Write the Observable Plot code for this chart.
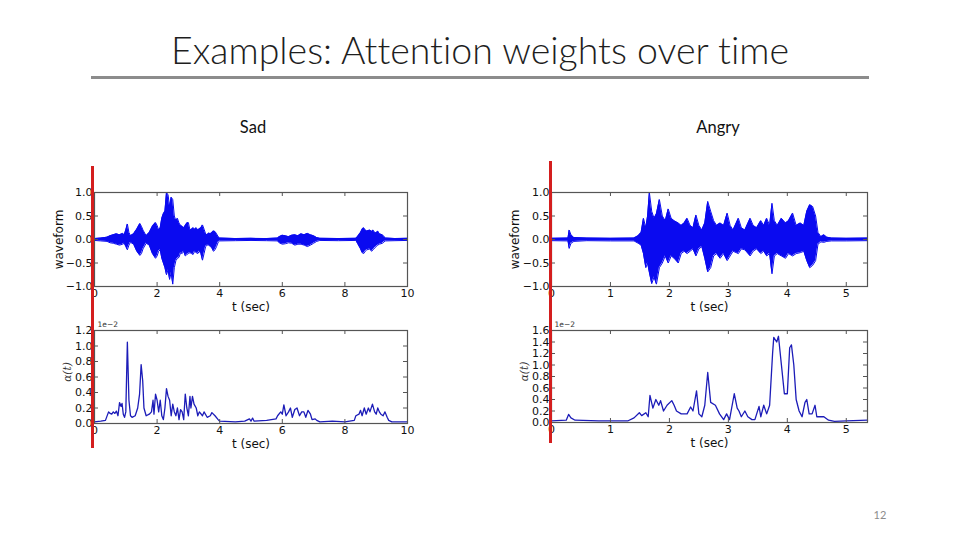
<!DOCTYPE html>
<html><head><meta charset="utf-8">
<script src="https://cdn.jsdelivr.net/npm/d3@7"></script>
<script src="https://cdn.jsdelivr.net/npm/@observablehq/plot@0.6"></script>
<style>
html,body{margin:0;padding:0;background:#fff;}
body{width:960px;height:540px;overflow:hidden;position:relative;font-family:Lato,"Open Sans",sans-serif;font-variant-ligatures:none;}
.abs{position:absolute;line-height:1;white-space:nowrap;}
#title{left:0;width:960px;top:31px;text-align:center;font-size:37.5px;font-weight:300;color:#1e1e1e;}
#rule{left:91px;top:76px;width:778px;height:3px;background:#8c8c8c;}
.col{font-size:16.5px;color:#111;text-align:center;width:200px;top:119px;}
#page{left:860px;width:40px;text-align:center;top:509px;font-size:11px;color:#8c8c8c;}
.plot{position:absolute;}
.red{position:absolute;background:#d41e1e;width:3px;z-index:5;}
</style></head><body>
<div id="title" class="abs">Examples: Attention weights over time</div>
<div id="rule" class="abs"></div>
<div class="abs col" style="left:153px">Sad</div>
<div class="abs col" style="left:618px">Angry</div>
<div id="page" class="abs">12</div>
<div id="p1" class="plot" style="left:40px;top:170px"></div>
<div id="p2" class="plot" style="left:40px;top:310px"></div>
<div id="p3" class="plot" style="left:495px;top:170px"></div>
<div id="p4" class="plot" style="left:495px;top:310px"></div>
<div class="red" style="left:91px;top:166px;height:282px"></div>
<div class="red" style="left:549px;top:161px;height:282px"></div>
<script>
// ---- Sad waveform envelope (seconds, upper, lower) ----
const sadWaveT  = [0.0,0.2,0.4,0.5,0.6,0.7,0.8,0.9,0.95,1.0,1.05,1.1,1.15,1.25,1.35,1.45,1.5,1.55,1.65,1.75,1.85,1.95,2.0,2.05,2.1,2.15,2.2,2.25,2.3,2.35,2.4,2.45,2.5,2.55,2.6,2.65,2.7,2.75,2.8,2.85,2.9,2.95,3.0,3.05,3.1,3.15,3.2,3.25,3.3,3.35,3.4,3.45,3.5,3.55,3.6,3.65,3.7,3.75,3.8,3.85,3.9,3.95,4.0,4.5,5.0,5.5,5.85,5.9,6.0,6.1,6.2,6.3,6.4,6.5,6.6,6.7,6.8,6.9,7.0,7.1,7.2,7.8,8.35,8.4,8.5,8.55,8.6,8.65,8.7,8.8,8.85,8.9,8.95,9.0,9.05,9.1,9.2,9.25,9.3,9.6,10.0];
const sadWaveUp = [0.02,0.03,0.05,0.08,0.1,0.12,0.1,0.13,0.1,0.2,0.33,0.15,0.08,0.12,0.22,0.34,0.28,0.2,0.08,0.15,0.28,0.36,0.3,0.2,0.25,0.45,0.55,0.6,1.0,0.95,0.7,0.9,0.85,0.5,0.4,0.45,0.35,0.3,0.28,0.25,0.3,0.35,0.36,0.2,0.22,0.25,0.22,0.25,0.2,0.23,0.25,0.31,0.22,0.12,0.1,0.14,0.12,0.15,0.18,0.17,0.12,0.06,0.03,0.02,0.025,0.02,0.03,0.06,0.09,0.08,0.06,0.09,0.1,0.08,0.12,0.1,0.13,0.1,0.08,0.04,0.025,0.02,0.025,0.06,0.15,0.22,0.25,0.2,0.18,0.2,0.17,0.2,0.15,0.14,0.18,0.12,0.1,0.06,0.03,0.02,0.025];
const sadWaveLo = [-0.02,-0.03,-0.04,-0.07,-0.08,-0.1,-0.12,-0.1,-0.08,-0.15,-0.22,-0.12,-0.06,-0.1,-0.25,-0.34,-0.3,-0.2,-0.08,-0.12,-0.3,-0.4,-0.35,-0.25,-0.22,-0.4,-0.5,-0.6,-0.75,-0.65,-0.85,-0.7,-0.95,-0.6,-0.45,-0.4,-0.38,-0.28,-0.3,-0.25,-0.35,-0.32,-0.3,-0.28,-0.3,-0.32,-0.25,-0.28,-0.3,-0.25,-0.3,-0.44,-0.3,-0.15,-0.12,-0.12,-0.15,-0.18,-0.25,-0.22,-0.15,-0.06,-0.03,-0.025,-0.02,-0.025,-0.03,-0.07,-0.1,-0.09,-0.07,-0.08,-0.12,-0.1,-0.1,-0.12,-0.15,-0.12,-0.08,-0.04,-0.02,-0.025,-0.02,-0.08,-0.2,-0.28,-0.3,-0.25,-0.22,-0.2,-0.25,-0.22,-0.18,-0.15,-0.12,-0.1,-0.08,-0.05,-0.03,-0.025,-0.02];

// ---- Angry waveform envelope ----
const angryWaveT  = [0.0,0.28,0.3,0.33,0.38,0.6,1.0,1.4,1.47,1.52,1.56,1.6,1.63,1.66,1.7,1.74,1.78,1.83,1.88,1.93,1.98,2.03,2.08,2.15,2.2,2.25,2.3,2.35,2.4,2.45,2.5,2.55,2.6,2.65,2.7,2.75,2.8,2.86,2.92,2.98,3.03,3.08,3.17,3.22,3.28,3.37,3.42,3.48,3.55,3.6,3.65,3.7,3.74,3.78,3.83,3.9,3.97,4.02,4.09,4.15,4.22,4.28,4.33,4.38,4.43,4.48,4.52,4.57,4.62,4.67,4.75,5.0,5.36];
const angryWaveUp = [0.025,0.03,0.2,0.1,0.04,0.03,0.025,0.03,0.08,0.15,0.45,0.25,0.5,1.0,0.6,0.45,0.55,0.85,0.5,0.4,0.65,0.45,0.4,0.35,0.3,0.35,0.45,0.3,0.25,0.52,0.3,0.2,0.35,0.81,0.6,0.4,0.3,0.35,0.3,0.56,0.3,0.2,0.45,0.25,0.2,0.45,0.3,0.25,0.4,0.3,0.45,0.3,0.77,0.4,0.3,0.45,0.35,0.4,0.56,0.3,0.35,0.3,0.6,0.74,0.7,0.5,0.15,0.06,0.1,0.05,0.03,0.025,0.03];
const angryWaveLo = [-0.025,-0.03,-0.19,-0.08,-0.04,-0.025,-0.03,-0.03,-0.08,-0.12,-0.3,-0.6,-0.5,-0.7,-0.94,-0.8,-0.95,-0.6,-0.5,-0.35,-0.5,-0.35,-0.4,-0.5,-0.3,-0.25,-0.3,-0.25,-0.2,-0.35,-0.2,-0.15,-0.4,-0.69,-0.6,-0.35,-0.3,-0.4,-0.3,-0.45,-0.35,-0.25,-0.3,-0.2,-0.22,-0.35,-0.25,-0.2,-0.3,-0.25,-0.35,-0.3,-0.73,-0.35,-0.3,-0.35,-0.4,-0.3,-0.35,-0.3,-0.28,-0.25,-0.45,-0.6,-0.55,-0.45,-0.1,-0.05,-0.06,-0.04,-0.03,-0.03,-0.025];

// ---- Sad attention weights (x 1e-2) ----
const sadAttT = [0.0,0.2,0.35,0.45,0.5,0.55,0.6,0.65,0.7,0.75,0.8,0.85,0.88,0.92,0.96,1.0,1.05,1.1,1.15,1.2,1.3,1.38,1.44,1.49,1.54,1.58,1.65,1.75,1.82,1.87,1.9,1.95,2.0,2.05,2.1,2.15,2.2,2.25,2.3,2.35,2.4,2.45,2.5,2.55,2.6,2.65,2.7,2.75,2.8,2.85,2.9,2.95,3.0,3.05,3.08,3.13,3.18,3.25,3.3,3.35,3.45,3.5,3.6,3.7,3.75,3.85,3.95,4.0,4.5,4.8,4.95,5.0,5.05,5.1,5.5,5.8,5.85,5.95,6.0,6.05,6.12,6.2,6.26,6.32,6.4,6.47,6.55,6.62,6.69,6.75,6.82,6.9,6.95,7.05,7.1,7.2,7.6,8.0,8.3,8.35,8.45,8.5,8.55,8.62,8.68,8.75,8.8,8.88,8.95,9.0,9.05,9.1,9.15,9.22,9.28,9.35,9.4,9.5,10.0];
const sadAttV = [0.02,0.03,0.04,0.15,0.13,0.12,0.15,0.13,0.16,0.1,0.27,0.22,0.26,0.12,0.08,0.15,1.05,0.3,0.1,0.08,0.1,0.2,0.38,0.76,0.55,0.2,0.1,0.12,0.15,0.3,0.12,0.38,0.3,0.15,0.3,0.1,0.05,0.2,0.45,0.35,0.3,0.1,0.25,0.15,0.1,0.2,0.05,0.18,0.15,0.05,0.38,0.2,0.1,0.35,0.2,0.35,0.25,0.2,0.1,0.15,0.1,0.15,0.08,0.1,0.14,0.1,0.05,0.03,0.02,0.03,0.06,0.03,0.07,0.03,0.04,0.06,0.1,0.15,0.12,0.24,0.1,0.15,0.2,0.08,0.18,0.2,0.1,0.15,0.15,0.08,0.17,0.12,0.05,0.06,0.04,0.02,0.03,0.02,0.04,0.1,0.12,0.17,0.1,0.2,0.12,0.2,0.15,0.25,0.15,0.12,0.2,0.15,0.12,0.1,0.15,0.08,0.04,0.02,0.02];

// ---- Angry attention weights (x 1e-2) ----
const angryAttT = [0.0,0.25,0.29,0.33,0.4,0.8,1.3,1.4,1.49,1.53,1.6,1.64,1.67,1.72,1.77,1.82,1.85,1.9,1.96,2.04,2.08,2.12,2.2,2.3,2.36,2.4,2.46,2.5,2.55,2.6,2.65,2.7,2.78,2.85,2.92,2.97,3.02,3.1,3.15,3.18,3.22,3.28,3.33,3.4,3.45,3.52,3.55,3.6,3.65,3.7,3.75,3.77,3.82,3.85,3.9,3.95,4.0,4.04,4.07,4.11,4.15,4.2,4.25,4.3,4.33,4.37,4.42,4.47,4.5,4.55,4.62,4.7,4.8,5.0,5.36];
const angryAttV = [0.03,0.04,0.14,0.08,0.04,0.03,0.03,0.08,0.17,0.12,0.17,0.1,0.47,0.25,0.4,0.3,0.38,0.2,0.3,0.38,0.3,0.2,0.15,0.15,0.27,0.2,0.55,0.15,0.1,0.3,0.87,0.35,0.3,0.15,0.05,0.15,0.05,0.5,0.25,0.2,0.1,0.2,0.1,0.05,0.05,0.28,0.1,0.3,0.15,0.3,1.2,1.48,1.4,1.5,1.0,0.5,0.5,1.3,1.35,1.0,0.4,0.2,0.1,0.35,0.4,0.15,0.15,0.3,0.1,0.1,0.1,0.04,0.02,0.03,0.04];

// ---- axes ----
const sadTicksX = [0,2,4,6,8,10];
const angryTicksX = [0,1,2,3,4,5];
const waveTicksY = [-1,-0.5,0,0.5,1];
const sadAttTicksY = [0,0.2,0.4,0.6,0.8,1.0,1.2];
const angryAttTicksY = [0,0.2,0.4,0.6,0.8,1.0,1.2,1.4,1.6];
const sadXDomain = [0,10];
const angryXDomain = [0,5.36];
const waveYDomain = [-1,1];
const sadAttYDomain = [0,1.2];
const angryAttYDomain = [0,1.6];

const zip3 = (t,u,l) => t.map((d,i)=>({t:d, up:u[i], lo:l[i]}));
const zip2 = (t,v) => t.map((d,i)=>({t:d, v:v[i]}));

function panel({el, ml, mr, mt, mb, xDomain, xTicks, yDomain, yTicks, yLabel, yLabelDx, yLabelDy=0, yLabelStyle, data, wave, offsetText}) {
  const W = 390, H = 150;
  const pw = W - ml - mr, ph = H - mt - mb;
  const frameColor = "#555";
  const marks = [];
  if (wave) {
    marks.push(Plot.areaY(data, {x:"t", y1:"lo", y2:"up", fill:"#0a0af0", curve:"linear"}));
    marks.push(Plot.line(data, {x:"t", y:"up", stroke:"#0a0af0", strokeWidth:1}));
    marks.push(Plot.line(data, {x:"t", y:"lo", stroke:"#0a0af0", strokeWidth:1}));
  } else {
    marks.push(Plot.line(data, {x:"t", y:"v", stroke:"#1c1cb8", strokeWidth:1.3}));
  }
  // inward ticks on all four sides
  marks.push(Plot.ruleX(xTicks, {x:d=>d, insetTop: ph-4, stroke:frameColor}));
  marks.push(Plot.ruleX(xTicks, {x:d=>d, insetBottom: ph-4, stroke:frameColor}));
  marks.push(Plot.ruleY(yTicks, {y:d=>d, insetRight: pw-4, stroke:frameColor}));
  marks.push(Plot.ruleY(yTicks, {y:d=>d, insetLeft: pw-4, stroke:frameColor}));
  marks.push(Plot.frame({stroke:frameColor, strokeWidth:1.2}));
  marks.push(Plot.axisX({ticks:xTicks, tickSize:0, tickPadding:3, tickFormat:"d", label:null, fontSize:11}));
  marks.push(Plot.axisY({ticks:yTicks, tickSize:0, tickPadding:2, tickFormat:".1f", label:null, fontSize:11}));
  marks.push(Plot.text(["t (sec)"], {frameAnchor:"bottom", textAnchor:"middle", dy:21, lineAnchor:"middle", fontSize:12, fill:"#111"}));
  marks.push(Plot.text([yLabel], {frameAnchor:"left", textAnchor:"middle", rotate:-90, dx:yLabelDx, dy:yLabelDy, lineAnchor:"middle", ...yLabelStyle}));
  if (offsetText) marks.push(Plot.text([offsetText], {frameAnchor:"top-left", textAnchor:"start", dx:3, dy:-4, lineAnchor:"bottom", fontSize:7.5, fill:"#333"}));
  const svg = Plot.plot({
    width: W, height: H,
    marginLeft: ml, marginRight: mr, marginTop: mt, marginBottom: mb,
    style: {fontFamily: "'DejaVu Sans', sans-serif", fontSize: "11px", color: "#111", background: "transparent"},
    x: {domain: xDomain},
    y: {domain: yDomain},
    marks
  });
  document.getElementById(el).appendChild(svg);
}

const waveLabelStyle = {fontSize: 12, fill: "#111"};
const attLabelStyle = {fontSize: 10.5, fill: "#333", fontStyle: "italic", fontFamily: "'DejaVu Serif', serif"};

panel({el:"p1", ml:54, mr:23, mt:22, mb:34, xDomain:sadXDomain, xTicks:sadTicksX, yDomain:waveYDomain, yTicks:waveTicksY,
  yLabel:"waveform", yLabelDx:-35, yLabelStyle:waveLabelStyle, data:zip3(sadWaveT, sadWaveUp, sadWaveLo), wave:true});
panel({el:"p2", ml:54, mr:23, mt:20, mb:37, xDomain:sadXDomain, xTicks:sadTicksX, yDomain:sadAttYDomain, yTicks:sadAttTicksY,
  yLabel:"α(t)", yLabelDx:-27, yLabelDy:-5, yLabelStyle:attLabelStyle, data:zip2(sadAttT, sadAttV), wave:false, offsetText:"1e−2"});
panel({el:"p3", ml:56, mr:18, mt:22, mb:34, xDomain:angryXDomain, xTicks:angryTicksX, yDomain:waveYDomain, yTicks:waveTicksY,
  yLabel:"waveform", yLabelDx:-36, yLabelStyle:waveLabelStyle, data:zip3(angryWaveT, angryWaveUp, angryWaveLo), wave:true});
panel({el:"p4", ml:56, mr:18, mt:20, mb:38, xDomain:angryXDomain, xTicks:angryTicksX, yDomain:angryAttYDomain, yTicks:angryAttTicksY,
  yLabel:"α(t)", yLabelDx:-27, yLabelDy:-5, yLabelStyle:attLabelStyle, data:zip2(angryAttT, angryAttV), wave:false, offsetText:"1e−2"});
</script>
</body></html>
